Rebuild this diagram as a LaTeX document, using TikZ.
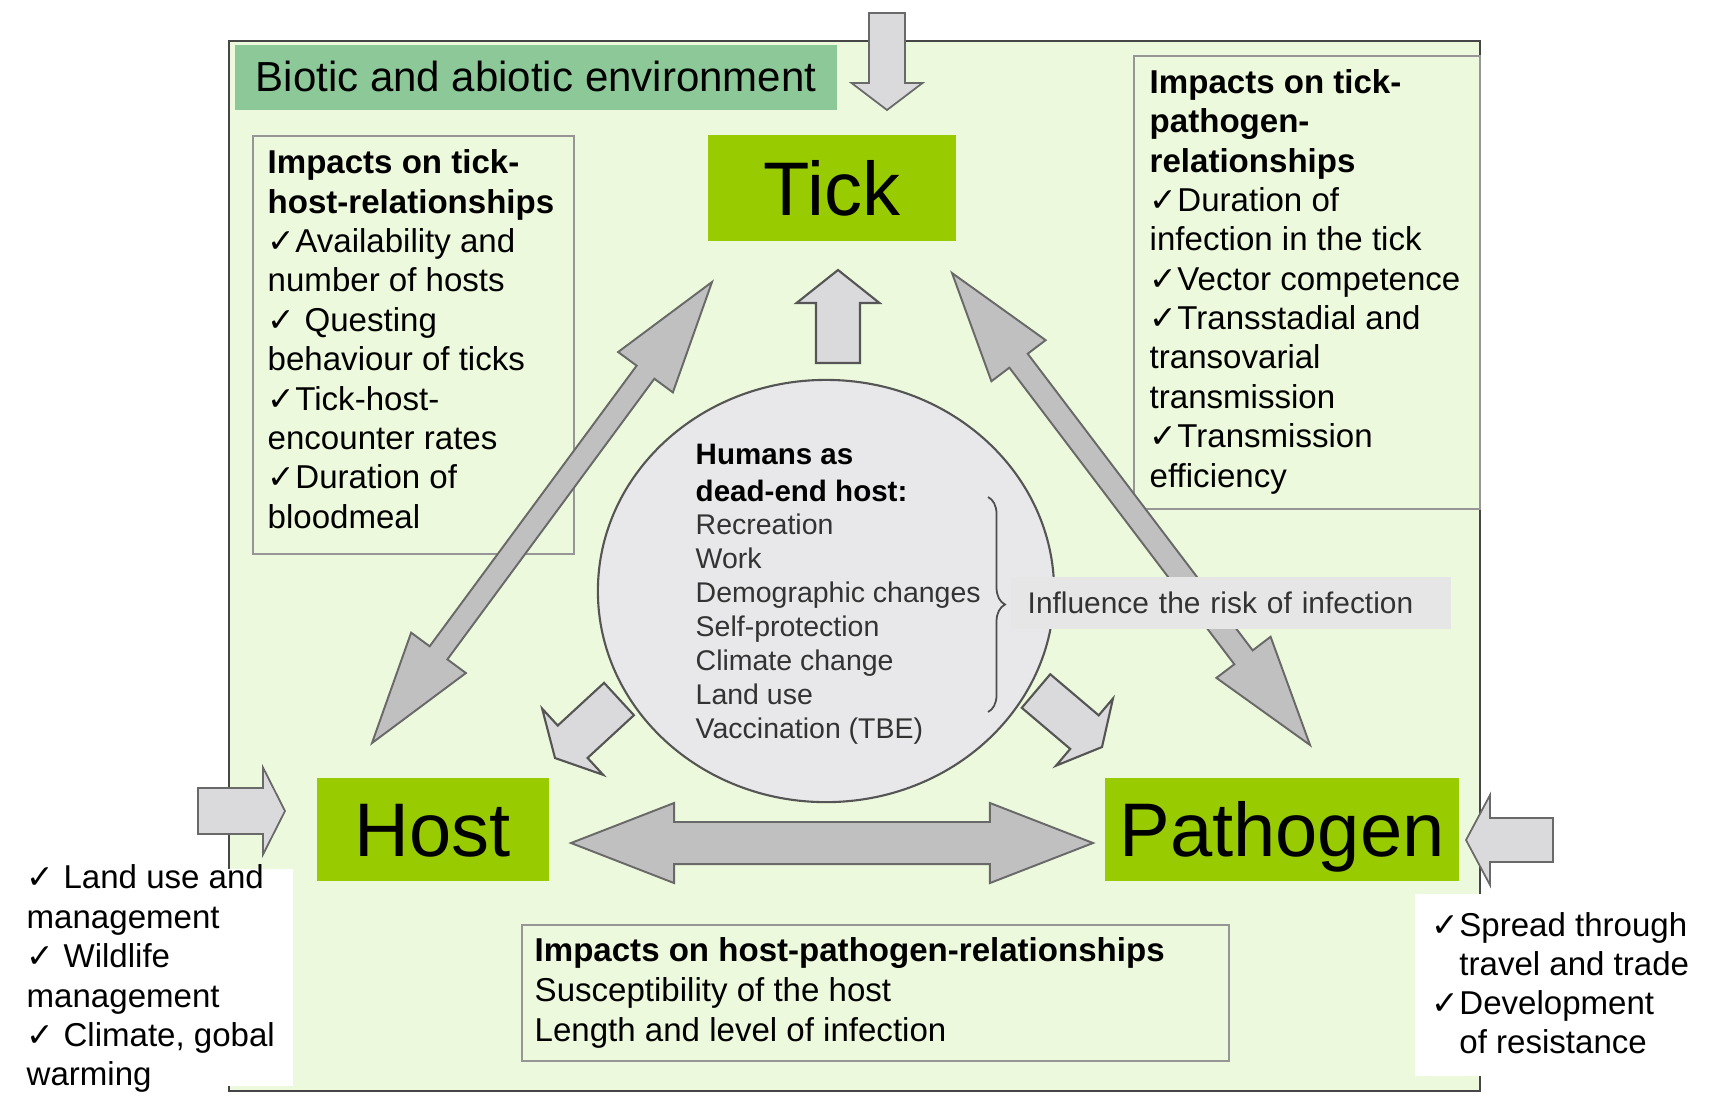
\documentclass[tikz,border=0pt]{standalone}
\usepackage{fontspec}
\setmainfont{Liberation Sans}
\newfontfamily\dejavu{DejaVu Sans}
\usetikzlibrary{calc,shapes.geometric,decorations.pathreplacing}

\definecolor{envgreen}{RGB}{237,249,220}
\definecolor{titlegreen}{RGB}{141,201,152}
\definecolor{keygreen}{RGB}{153,204,0}
\definecolor{framegray}{RGB}{70,70,70}
\definecolor{boxgray}{RGB}{150,150,150}
\definecolor{arrowgray}{RGB}{192,192,192}
\definecolor{arrowedge}{RGB}{105,105,105}
\definecolor{lightarrow}{RGB}{218,218,220}
\definecolor{circlegray}{RGB}{232,232,234}
\definecolor{circleedge}{RGB}{85,85,85}
\definecolor{labelgray}{RGB}{230,230,230}

% check mark and top strut for multi-line text blocks
\newcommand\chk{{\dejavu ✓}}
\newcommand\tp{\rule{0pt}{0.8em}}

% single block arrow: style, back centre, tip, head length, shaft half width, head half width
\newcommand\sblockarrow[6]{%
  \path ($(#3)!#4!(#2)$) coordinate (#3-h);
  \draw[#1] ($(#2)!#5!90:(#3)$) -- ($(#3-h)!#5!-90:(#2)$) -- ($(#3-h)!#6!-90:(#2)$)
    -- (#3) -- ($(#3-h)!#6!90:(#2)$) -- ($(#3-h)!#5!90:(#2)$) -- ($(#2)!#5!-90:(#3)$) -- cycle;}

% double block arrow: style, first tip, second tip, head length, shaft half width, head half width
\newcommand\dblockarrow[6]{%
  \path ($(#2)!#4!(#3)$) coordinate (#2-h) ($(#3)!#4!(#2)$) coordinate (#3-h);
  \draw[#1] (#2)
    -- ($(#2-h)!#6!90:(#3)$) -- ($(#2-h)!#5!90:(#3)$)
    -- ($(#3-h)!#5!-90:(#2)$) -- ($(#3-h)!#6!-90:(#2)$)
    -- (#3)
    -- ($(#3-h)!#6!90:(#2)$) -- ($(#3-h)!#5!90:(#2)$)
    -- ($(#2-h)!#5!-90:(#3)$) -- ($(#2-h)!#6!-90:(#3)$)
    -- cycle;}

\tikzset{
  frame/.style={draw=framegray, line width=0.7pt, fill=envgreen},
  infobox/.style={draw=boxgray, line width=0.5pt, fill=envgreen, inner sep=0pt, anchor=north west},
  keybox/.style={fill=keygreen, inner sep=0pt, font=\fontsize{21.6pt}{24pt}\selectfont,
    text height=15.5pt, text depth=0pt},
  bigarrow/.style={draw=arrowedge, fill=arrowgray, line width=0.55pt},
  smallarrow/.style={draw=circleedge, fill=lightarrow, line width=0.6pt},
  sidearrow/.style={draw=arrowedge, fill=lightarrow, line width=0.5pt},
  txt/.style={inner sep=0pt, anchor=north west, align=left},
  body/.style={txt, font=\fontsize{9.4pt}{11.2pt}\selectfont},
  whitebox/.style={fill=white, inner sep=0pt, anchor=north west},
}

\begin{document}
\begin{tikzpicture}[x=0.01cm, y=-0.01cm]
\useasboundingbox (0,0) rectangle (1710,1102);

% environment frame
\draw[frame] (229,41) rectangle (1480,1091);

% title band
\node[fill=titlegreen, inner sep=0pt, anchor=north west, minimum width=6.02cm, minimum height=0.65cm] (titleband) at (234,44) {};
\node[txt, font=\fontsize{11.95pt}{14pt}\selectfont] (title) at (255,56.9) {\tp Biotic and abiotic environment};

% impact boxes
\node[infobox, minimum width=3.21cm, minimum height=4.18cm] (thbox) at (252,135) {};
\node[infobox, minimum width=3.46cm, minimum height=4.53cm] (tpbox) at (1133,55) {};
\node[infobox, minimum width=7.07cm, minimum height=1.36cm] (hpbox) at (521,924) {};

\node[body] (thtext) at (267,146.6) {\tp\textbf{Impacts on tick-}\\
\textbf{host-relationships}\\
\chk Availability and\\
number of hosts\\
\chk\ Questing\\
behaviour of ticks\\
\chk Tick-host-\\
encounter rates\\
\chk Duration of\\
bloodmeal};

\node[body] (tptext) at (1149,66.1) {\tp\textbf{Impacts on tick-}\\
\textbf{pathogen-}\\
\textbf{relationships}\\
\chk Duration of\\
infection in the tick\\
\chk Vector competence\\
\chk Transstadial and\\
transovarial\\
transmission\\
\chk Transmission\\
efficiency};

\node[txt, font=\fontsize{9.4pt}{11.38pt}\selectfont] (hptext) at (534,934.6) {\tp\textbf{Impacts on host-pathogen-relationships}\\
Susceptibility of the host\\
Length and level of infection};

% the three partners
\node[keybox, minimum width=2.48cm, minimum height=1.06cm] (tick) at (832,188) {Tick};
\node[keybox, minimum width=2.32cm, minimum height=1.03cm] (host) at (433,829.5) {Host};
\node[keybox, minimum width=3.54cm, minimum height=1.03cm] (pathogen) at (1282,829.5) {Pathogen};

% humans as dead-end host
\node[ellipse, draw=circleedge, line width=0.6pt, fill=circlegray, minimum width=4.56cm, minimum height=4.22cm, inner sep=0pt] (humans) at (826,591) {};
\node[txt, font=\bfseries\fontsize{8.4pt}{10.67pt}\selectfont] (humanshead) at (695,439.9) {\tp Humans as\\dead-end host:};
\node[txt, text=black!80, font=\fontsize{8.1pt}{9.67pt}\selectfont] (humanslist) at (695,511.3) {\tp Recreation\\
Work\\
Demographic changes\\
Self-protection\\
Climate change\\
Land use\\
Vaccination (TBE)};

% arrows from the humans circle
\coordinate (toTickBack) at (838,363);
\coordinate (toTick) at (838,270);
\sblockarrow{smallarrow}{toTickBack}{toTick}{0.33cm}{0.22cm}{0.415cm}
\coordinate (toHostBack) at (619,699);
\coordinate (toHost) at (555,758);
\sblockarrow{smallarrow}{toHostBack}{toHost}{0.24cm}{0.22cm}{0.45cm}
\coordinate (toPathBack) at (1036,691);
\coordinate (toPath) at (1102,747);
\sblockarrow{smallarrow}{toPathBack}{toPath}{0.23cm}{0.22cm}{0.44cm}

% interactions between tick, host and pathogen
\coordinate (thHostEnd) at (372,743);
\coordinate (thTickEnd) at (712,282);
\dblockarrow{bigarrow}{thHostEnd}{thTickEnd}{1.12cm}{0.11cm}{0.34cm}
\coordinate (tpTickEnd) at (952,273);
\coordinate (tpPathEnd) at (1310,745);
\dblockarrow{bigarrow}{tpTickEnd}{tpPathEnd}{1.10cm}{0.115cm}{0.34cm}
\coordinate (hpHostEnd) at (571,843);
\coordinate (hpPathEnd) at (1093,843);
\dblockarrow{bigarrow}{hpHostEnd}{hpPathEnd}{1.03cm}{0.21cm}{0.40cm}

% brace and its label
\draw[decorate, decoration={brace, amplitude=0.17cm}, draw=black!70, line width=0.5pt] (988,497) -- (988,712);
\node[fill=labelgray, anchor=west, inner xsep=0.17cm, inner ysep=0pt, text width=4.06cm, align=left,
  minimum height=0.52cm, font=\fontsize{8.5pt}{10pt}\selectfont, text=black!80] (influence) at (1010,603) {Influence the risk of infection};

% outside influences
\coordinate (envBack) at (887,13);
\coordinate (envTip) at (887,110);
\sblockarrow{sidearrow}{envBack}{envTip}{0.27cm}{0.18cm}{0.355cm}
\coordinate (hostInBack) at (198,811);
\coordinate (hostIn) at (285,811);
\sblockarrow{sidearrow}{hostInBack}{hostIn}{0.22cm}{0.23cm}{0.435cm}
\coordinate (pathInBack) at (1553,840);
\coordinate (pathIn) at (1466,840);
\sblockarrow{sidearrow}{pathInBack}{pathIn}{0.24cm}{0.22cm}{0.45cm}

% notes outside the frame
\node[whitebox, minimum width=2.92cm, minimum height=2.17cm] (hostnotes) at (0,868) {};
\node[body, font=\fontsize{9.4pt}{11.21pt}\selectfont] (hostnotestext) at (26,861.6) {\tp\chk\ Land use and\\
management\\
\chk\ Wildlife\\
management\\
\chk\ Climate, gobal\\
warming};
\node[whitebox, minimum width=2.96cm, minimum height=1.82cm] (pathnotes) at (1414,893) {};
\node[body, font=\fontsize{9.4pt}{11.1pt}\selectfont] (pathnotestext) at (1431,909.6) {\tp\chk Spread through\\
\phantom{\chk}travel and trade\\
\chk Development\\
\phantom{\chk}of resistance};
\end{tikzpicture}
\end{document}
